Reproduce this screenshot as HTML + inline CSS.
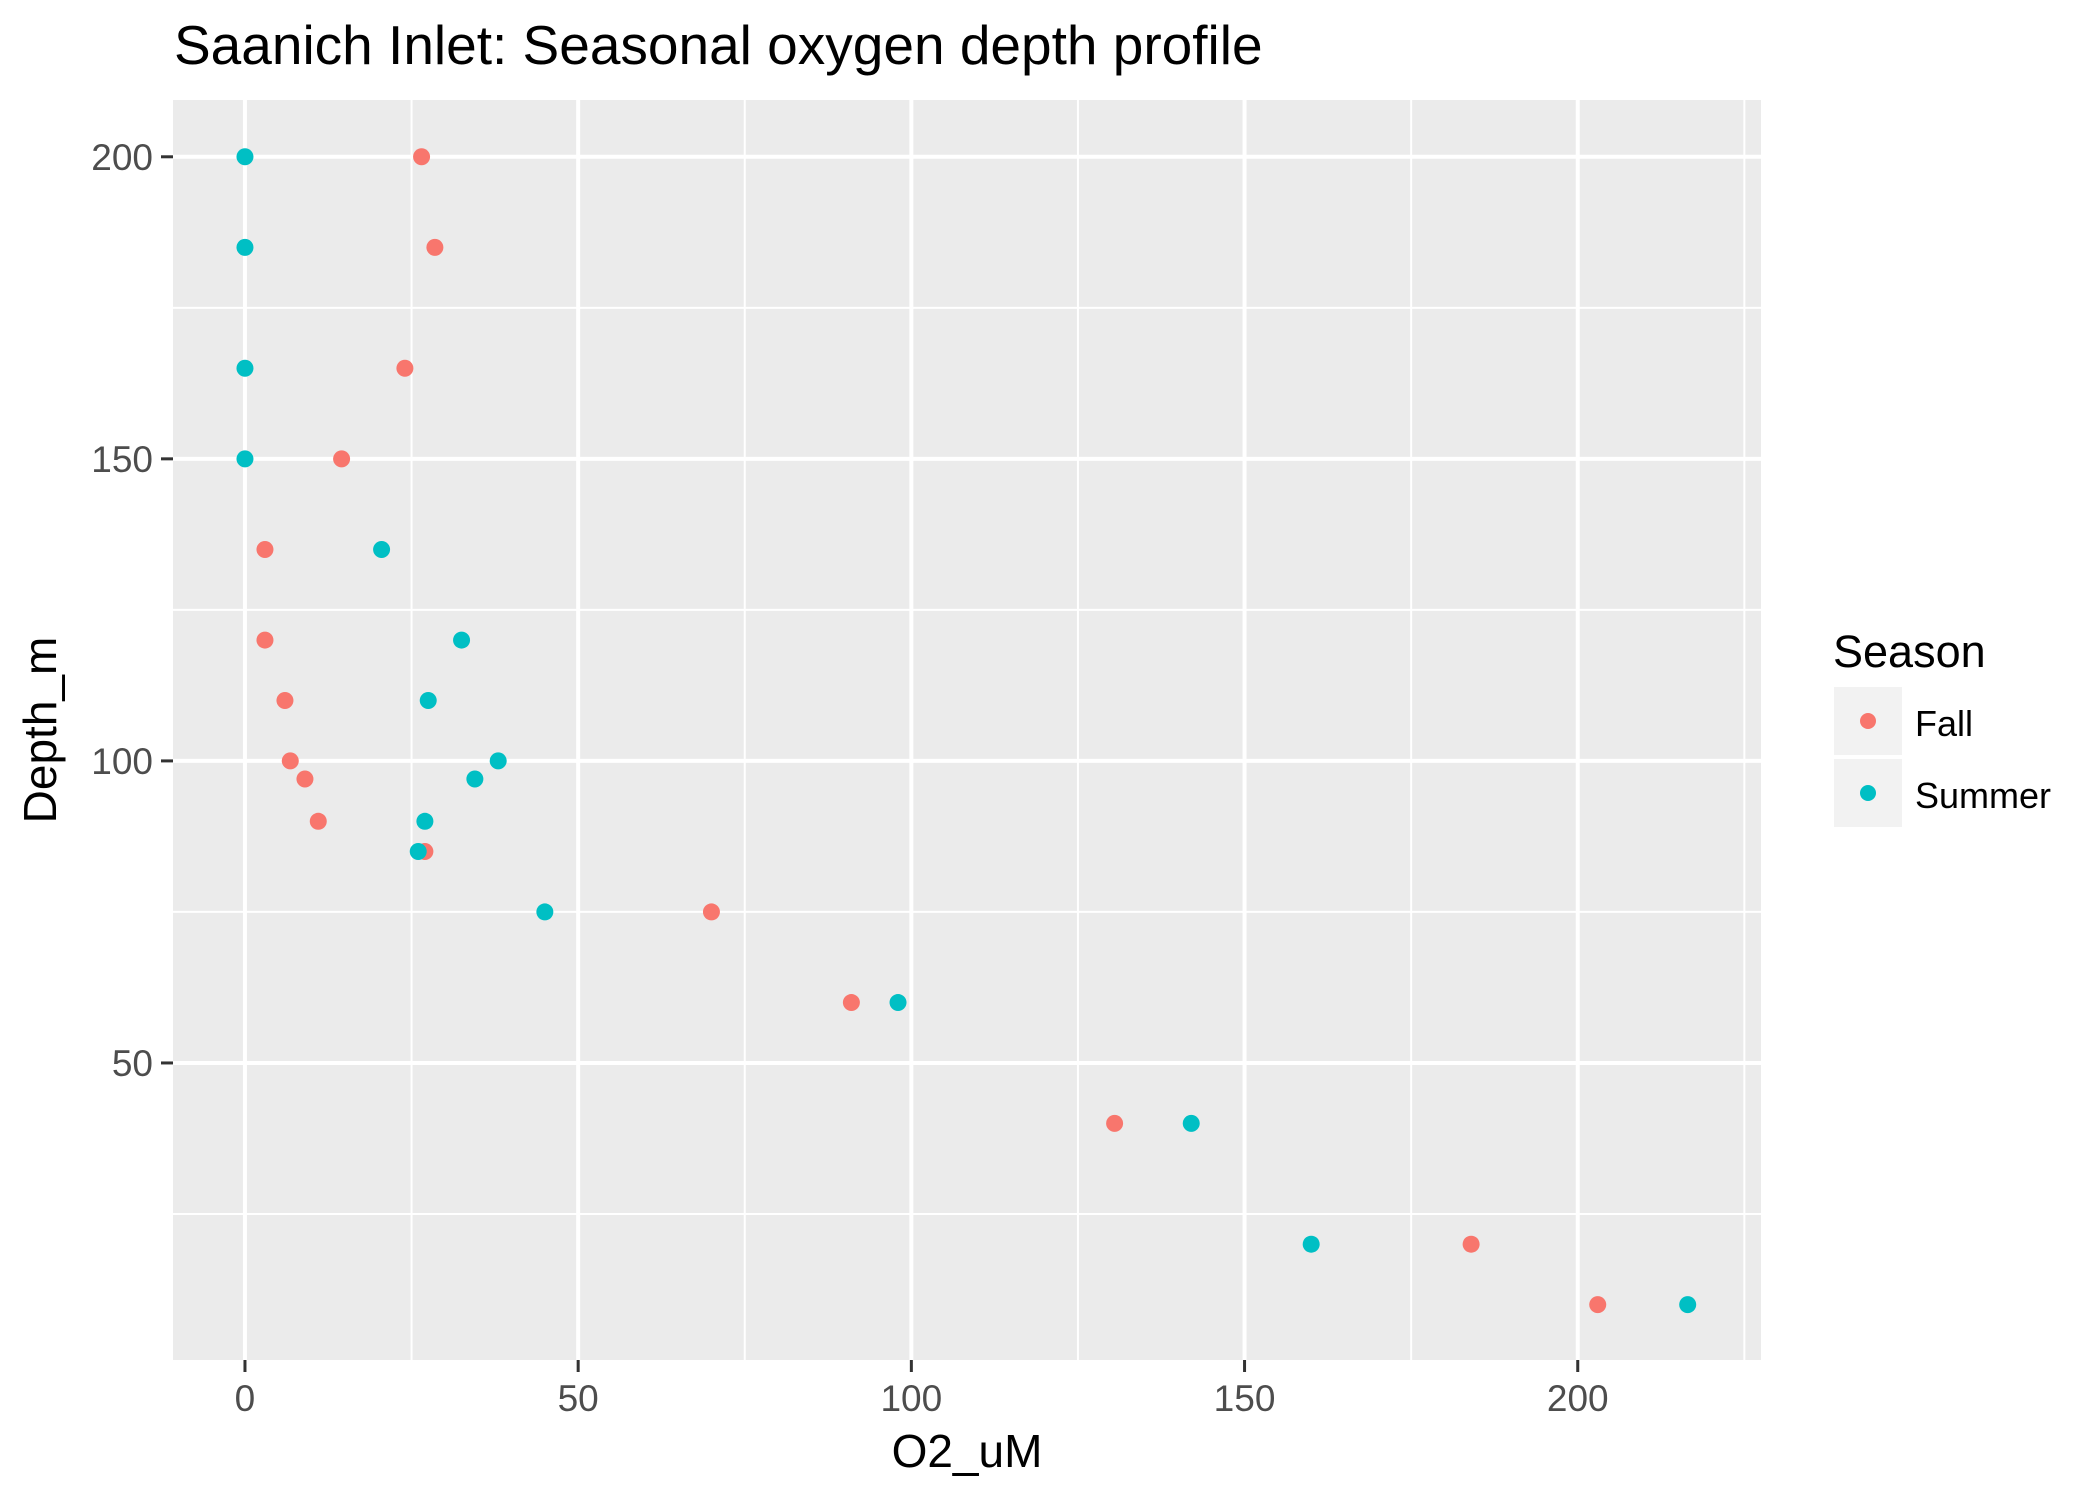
<!DOCTYPE html>
<html><head><meta charset="utf-8"><style>
html,body{margin:0;padding:0;background:#fff;}
svg{display:block;font-family:"Liberation Sans",Arial,sans-serif;}
</style></head><body>
<svg id="chart" width="2100" height="1499" viewBox="0 0 2100 1499">
<text x="174" y="64" font-size="55" fill="#000">Saanich Inlet: Seasonal oxygen depth profile</text>
<rect x="173" y="100" width="1588" height="1260" fill="#ebebeb"/>
<g id="grid"></g>
<g id="axes"></g>
<g id="points"></g>
<text x="967" y="1467" font-size="46" text-anchor="middle" fill="#000">O2_uM</text>
<text transform="translate(56,730) rotate(-90)" font-size="46" text-anchor="middle" fill="#000">Depth_m</text>
<g>
<text x="1833" y="667" font-size="45" fill="#000">Season</text>
<rect x="1834" y="687" width="68" height="68" fill="#f2f2f2"/>
<circle cx="1868" cy="721" r="8" fill="#F8766D"/>
<text x="1915" y="736" font-size="36" fill="#000">Fall</text>
<rect x="1834" y="759" width="68" height="68" fill="#f2f2f2"/>
<circle cx="1868" cy="793" r="8" fill="#00BFC4"/>
<text x="1915" y="808" font-size="36" fill="#000">Summer</text>
</g>
</svg>
<script>
const fallO2 = [26.5,28.5,24,14.5,3,3,6,6.8,9,11,27,70,91,130.5,184,203];
const fallDepth = [200,185,165,150,135,120,110,100,97,90,85,75,60,40,20,10];
const summerO2 = [0,0,0,0,20.5,32.5,27.5,38,34.5,27,26,45,98,142,160,216.5];
const summerDepth = [200,185,165,150,135,120,110,100,97,90,85,75,60,40,20,10];
const xTicks = [0,50,100,150,200];
const xMinor = [25,75,125,175,225];
const yTicks = [50,100,150,200];
const yMinor = [25,75,125,175];

const NS='http://www.w3.org/2000/svg';
const PL=173,PR=1761,PT=100,PB=1360;
const xMin=-10.8,xMax=227.5,yMin=0.83,yMax=209.4;
function sx(v){return PL+(v-xMin)/(xMax-xMin)*(PR-PL);}
function sy(v){return PB-(v-yMin)/(yMax-yMin)*(PB-PT);}
function mk(tag,attrs,parent){const e=document.createElementNS(NS,tag);for(const k in attrs)e.setAttribute(k,attrs[k]);parent.appendChild(e);return e;}
const grid=document.getElementById('grid'),axes=document.getElementById('axes'),pts=document.getElementById('points');
xMinor.forEach(v=>{const l=mk('line',{x1:sx(v),x2:sx(v),y1:PT,y2:PB,stroke:'#fff','stroke-width':2},grid);

});
yMinor.forEach(v=>{const l=mk('line',{x1:PL,x2:PR,y1:sy(v),y2:sy(v),stroke:'#fff','stroke-width':2},grid);

});
xTicks.forEach(v=>{const x=sx(v);
const l=mk('line',{x1:x,x2:x,y1:PT,y2:PB,stroke:'#fff','stroke-width':4},grid);


const t=mk('line',{x1:x,x2:x,y1:PB,y2:PB+12,stroke:'#333','stroke-width':3},axes);


const tx=mk('text',{x:x,y:1411,'font-size':37,'text-anchor':'middle',fill:'#4d4d4d'},axes);tx.textContent=v;

});
yTicks.forEach(v=>{const y=sy(v);
const l=mk('line',{x1:PL,x2:PR,y1:y,y2:y,stroke:'#fff','stroke-width':4},grid);


const t=mk('line',{x1:PL-12,x2:PL,y1:y,y2:y,stroke:'#333','stroke-width':3},axes);


const tx=mk('text',{x:PL-20,y:y+13,'font-size':37,'text-anchor':'end',fill:'#4d4d4d'},axes);tx.textContent=v;

});
fallO2.forEach((v,i)=>{const c=mk('circle',{cx:sx(v),cy:sy(fallDepth[i]),r:8.5,fill:'#F8766D'},pts);

});
summerO2.forEach((v,i)=>{const c=mk('circle',{cx:sx(v),cy:sy(summerDepth[i]),r:8.5,fill:'#00BFC4'},pts);

});
</script>
</body></html>
